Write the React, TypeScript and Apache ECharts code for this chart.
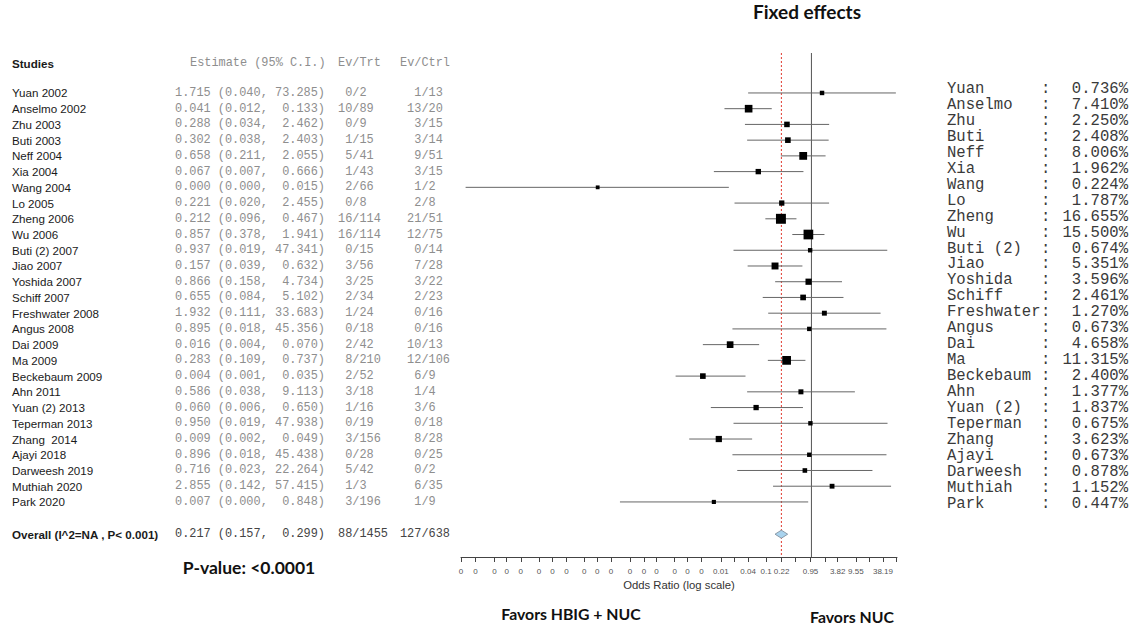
import React, { useEffect, useRef } from "react";
import * as echarts from "echarts";

// ---------------- data ----------------
const studies = [
  "Yuan 2002", "Anselmo 2002", "Zhu 2003", "Buti 2003", "Neff 2004", "Xia 2004", "Wang 2004",
  "Lo 2005", "Zheng 2006", "Wu 2006", "Buti (2) 2007", "Jiao 2007", "Yoshida 2007", "Schiff 2007",
  "Freshwater 2008", "Angus 2008", "Dai 2009", "Ma 2009", "Beckebaum 2009", "Ahn 2011",
  "Yuan (2) 2013", "Teperman 2013", "Zhang  2014", "Ajayi 2018", "Darweesh 2019", "Muthiah 2020", "Park 2020",
];
const estimates = [
  1.715, 0.041, 0.288, 0.302, 0.658, 0.067, 0.000019, 0.221, 0.212, 0.857, 0.937, 0.157, 0.866, 0.655,
  1.932, 0.895, 0.016, 0.283, 0.004, 0.586, 0.060, 0.950, 0.009, 0.896, 0.716, 2.855, 0.007,
];
const lowers = [
  0.040, 0.012, 0.034, 0.038, 0.211, 0.007, 0.000000023, 0.020, 0.096, 0.378, 0.019, 0.039, 0.158, 0.084,
  0.111, 0.018, 0.004, 0.109, 0.001, 0.038, 0.006, 0.019, 0.002, 0.018, 0.023, 0.142, 0.000059,
];
const uppers = [
  73.285, 0.133, 2.462, 2.403, 2.055, 0.666, 0.015, 2.455, 0.467, 1.941, 47.341, 0.632, 4.734, 5.102,
  33.683, 45.356, 0.070, 0.737, 0.035, 9.113, 0.650, 47.938, 0.049, 45.438, 22.264, 57.415, 0.848,
];
const evTrt = [
  "0/2", "10/89", "0/9", "1/15", "5/41", "1/43", "2/66", "0/8", "16/114", "16/114", "0/15", "3/56", "3/25",
  "2/34", "1/24", "0/18", "2/42", "8/210", "2/52", "3/18", "1/16", "0/19", "3/156", "0/28", "5/42", "1/3", "3/196",
];
const evCtrl = [
  "1/13", "13/20", "3/15", "3/14", "9/51", "3/15", "1/2", "2/8", "21/51", "12/75", "0/14", "7/28", "3/22",
  "2/23", "0/16", "0/16", "10/13", "12/106", "6/9", "1/4", "3/6", "0/18", "8/28", "0/25", "0/2", "6/35", "1/9",
];
const weightNames = [
  "Yuan", "Anselmo", "Zhu", "Buti", "Neff", "Xia", "Wang", "Lo", "Zheng", "Wu", "Buti (2)", "Jiao", "Yoshida",
  "Schiff", "Freshwater", "Angus", "Dai", "Ma", "Beckebaum", "Ahn", "Yuan (2)", "Teperman", "Zhang", "Ajayi",
  "Darweesh", "Muthiah", "Park",
];
const weights = [
  0.736, 7.410, 2.250, 2.408, 8.006, 1.962, 0.224, 1.787, 16.655, 15.500, 0.674, 5.351, 3.596, 2.461,
  1.270, 0.673, 4.658, 11.315, 2.400, 1.377, 1.837, 0.675, 3.623, 0.673, 0.878, 1.152, 0.447,
];
const overallLabel = "Overall (I^2=NA , P< 0.001)";
const overallEstimate = 0.217;
const overallLower = 0.157;
const overallUpper = 0.299;
const overallEvTrt = "88/1455";
const overallEvCtrl = "127/638";

// tick positions (log10 of odds ratio) and their printed labels
const tickLogs = [
  -7.74, -7.42, -7.0, -6.73, -6.42, -6.02, -5.72, -5.41, -5.02, -4.73, -4.43, -4.01, -3.7, -3.42, -3.02,
  -2.74, -2.43, -2.0, -1.71, -1.4, -1.0, -0.66, -0.36, -0.02, 0.3, 0.58, 0.98, 1.28, 1.58, 1.88,
];
const tickLabels = [
  "0", "0", "0", "0", "0", "0", "0", "0", "0", "0", "0", "0", "0", "0", "0", "0", "0",
  "0.01", "", "0.04", "0.1", "0.22", "", "0.95", "", "3.82", "9.55", "", "38.19", "",
];

// ---------------- layout ----------------
const ROW_MIN = -2.54;
const ROW_MAX = 29.5;
const OVERALL_ROW = 28.05;
const HEADER_Y = 63;
const SANS = '"Liberation Sans", Arial, sans-serif';
const MONO = '"Liberation Mono", "Courier New", monospace';
const TITLE = 'Lato, "Open Sans", sans-serif';
const MONO_W = 7.14; // char width of 11.9px mono
const X_NAME = 12;
const X_EST = 175;
const X_HI_END = 325;
const X_TRT_SLASH = 352.3;
const X_CTRL_SLASH = 421.4;

const fmt = (v: number) => v.toFixed(3);

function txt(x: number, y: number, text: string, font: string, fill: string, align = "left") {
  return {
    type: "text",
    x,
    y,
    silent: true,
    style: {
      text,
      font,
      fill,
      align,
      textAlign: align,
      verticalAlign: "middle",
      textVerticalAlign: "middle",
    },
  };
}

function rowTexts(y: number, name: string, est: number, lo: number, hi: number, trt: string, ctrl: string, bold: boolean) {
  const nameFont = `${bold ? "bold " : ""}11.6px ${SANS}`;
  const monoFont = `11.9px ${MONO}`;
  const col = bold ? "#444" : "#8e8e8e";
  const trtNum = trt.split("/")[0].length;
  const ctrlNum = ctrl.split("/")[0].length;
  return [
    txt(X_NAME, y, name, nameFont, "#1a1a1a"),
    txt(X_EST, y, `${fmt(est)} (${fmt(lo)},`, monoFont, col),
    txt(X_HI_END, y, `${fmt(hi)})`, monoFont, col, "right"),
    txt(X_TRT_SLASH - trtNum * MONO_W, y, trt, monoFont, col),
    txt(X_CTRL_SLASH - ctrlNum * MONO_W, y, ctrl, monoFont, col),
  ];
}

export default function App() {
  const ref = useRef<HTMLDivElement>(null);

  useEffect(() => {
    if (!ref.current) return;
    const chart = echarts.init(ref.current, undefined, { renderer: "svg" });

    const studyData = studies.map((_, i) => [
      Math.log10(estimates[i]),
      i,
      Math.log10(lowers[i]),
      Math.log10(uppers[i]),
      weights[i],
    ]);

    const option: any = {
      animation: false,
      backgroundColor: "#ffffff",
      grid: [
        { left: 461, top: 53, width: 436, height: 504, containLabel: false },
        { left: 940, top: 89, width: 190, height: 26 * 15.95, containLabel: false },
      ],
      xAxis: [
        {
          gridIndex: 0,
          type: "value",
          min: -7.74,
          max: 1.89,
          position: "bottom",
          axisLine: { show: true, onZero: false, lineStyle: { color: "#444", width: 1 } },
          axisTick: { show: true, customValues: tickLogs, length: 5, lineStyle: { color: "#444" } },
          axisLabel: {
            show: true,
            customValues: tickLogs,
            margin: 10,
            fontSize: 8,
            color: "#555",
            fontFamily: SANS,
            formatter: (v: number) => {
              const idx = tickLogs.findIndex((t) => Math.abs(t - v) < 1e-6);
              return idx >= 0 ? tickLabels[idx] : "";
            },
          },
          splitLine: { show: false },
          name: "Odds Ratio (log scale)",
          nameLocation: "middle",
          nameGap: 20,
          nameTextStyle: { fontSize: 11.3, color: "#333", fontFamily: SANS },
        },
        { gridIndex: 1, type: "value", min: 0, max: 1, show: false },
      ],
      yAxis: [
        { gridIndex: 0, type: "value", inverse: true, min: ROW_MIN, max: ROW_MAX, show: false },
        { gridIndex: 1, type: "value", inverse: true, min: 0, max: 26, show: false },
      ],
      graphic: [
        txt(X_NAME, HEADER_Y, "Studies", `bold 11.6px ${SANS}`, "#1a1a1a"),
        txt(190, HEADER_Y, "Estimate (95% C.I.)", `11.9px ${MONO}`, "#8e8e8e"),
        txt(338, HEADER_Y, "Ev/Trt", `11.9px ${MONO}`, "#8e8e8e"),
        txt(400, HEADER_Y, "Ev/Ctrl", `11.9px ${MONO}`, "#8e8e8e"),
        txt(807, 11, "Fixed effects", `bold 19px ${TITLE}`, "#111", "center"),
        txt(249, 567, "P-value: <0.0001", `bold 17.5px ${TITLE}`, "#111", "center"),
        txt(571, 613, "Favors HBIG + NUC", `bold 15.8px ${TITLE}`, "#111", "center"),
        txt(852, 616, "Favors NUC", `bold 15.8px ${TITLE}`, "#111", "center"),
      ],
      series: [
        {
          type: "line",
          xAxisIndex: 0,
          yAxisIndex: 0,
          data: [[0, ROW_MIN], [0, ROW_MAX]],
          showSymbol: false,
          symbol: "none",
          lineStyle: { color: "#555", width: 1 },
          z: 1,
          silent: true,
        },
        {
          type: "line",
          xAxisIndex: 0,
          yAxisIndex: 0,
          data: [[Math.log10(overallEstimate), ROW_MIN], [Math.log10(overallEstimate), ROW_MAX]],
          showSymbol: false,
          symbol: "none",
          lineStyle: { color: "#e0392f", width: 1, type: [2, 2] },
          z: 1,
          silent: true,
        },
        {
          type: "custom",
          xAxisIndex: 0,
          yAxisIndex: 0,
          clip: false,
          z: 3,
          data: studyData,
          encode: { x: [0, 2, 3], y: 1 },
          renderItem: (params: any, api: any) => {
            const r = api.value(1);
            const c = api.coord([api.value(0), r]);
            const l = api.coord([api.value(2), r]);
            const h = api.coord([api.value(3), r]);
            const s = 3 + 1.7 * Math.sqrt(api.value(4));
            const i = params.dataIndex;
            return {
              type: "group",
              children: [
                {
                  type: "line",
                  shape: { x1: l[0], y1: l[1], x2: h[0], y2: h[1] },
                  style: { stroke: "#666", lineWidth: 1 },
                },
                {
                  type: "rect",
                  shape: { x: c[0] - s / 2, y: c[1] - s / 2, width: s, height: s },
                  style: { fill: "#000" },
                },
                ...rowTexts(c[1], studies[i], estimates[i], lowers[i], uppers[i], evTrt[i], evCtrl[i], false),
              ],
            };
          },
        },
        {
          type: "custom",
          xAxisIndex: 0,
          yAxisIndex: 0,
          clip: false,
          z: 3,
          data: [[Math.log10(overallEstimate), OVERALL_ROW, Math.log10(overallLower), Math.log10(overallUpper)]],
          encode: { x: [0, 2, 3], y: 1 },
          renderItem: (_params: any, api: any) => {
            const r = api.value(1);
            const c = api.coord([api.value(0), r]);
            const l = api.coord([api.value(2), r]);
            const h = api.coord([api.value(3), r]);
            const hh = 4;
            return {
              type: "group",
              children: [
                {
                  type: "polygon",
                  shape: { points: [[l[0], c[1]], [c[0], c[1] - hh], [h[0], c[1]], [c[0], c[1] + hh]] },
                  style: { fill: "#a9d3ee", stroke: "#8a9aa8", lineWidth: 1 },
                },
                ...rowTexts(c[1], overallLabel, overallEstimate, overallLower, overallUpper, overallEvTrt, overallEvCtrl, true),
              ],
            };
          },
        },
        {
          type: "custom",
          xAxisIndex: 1,
          yAxisIndex: 1,
          clip: false,
          data: weightNames.map((_, i) => [0, i]),
          encode: { x: 0, y: 1 },
          renderItem: (params: any, api: any) => {
            const i = params.dataIndex;
            const y = api.coord([0, api.value(1)])[1];
            const f = `15.6px ${MONO}`;
            return {
              type: "group",
              children: [
                txt(947, y, weightNames[i], f, "#3a3a3a"),
                txt(1041, y, ":", f, "#3a3a3a"),
                txt(1128, y, `${weights[i].toFixed(3)}%`, f, "#3a3a3a", "right"),
              ],
            };
          },
        },
      ],
    };

    chart.setOption(option);
    return () => chart.dispose();
  }, []);

  return (
    <div
      ref={ref}
      style={{ position: "fixed", left: 0, top: 0, width: 1134, height: 627, background: "#fff" }}
    />
  );
}
